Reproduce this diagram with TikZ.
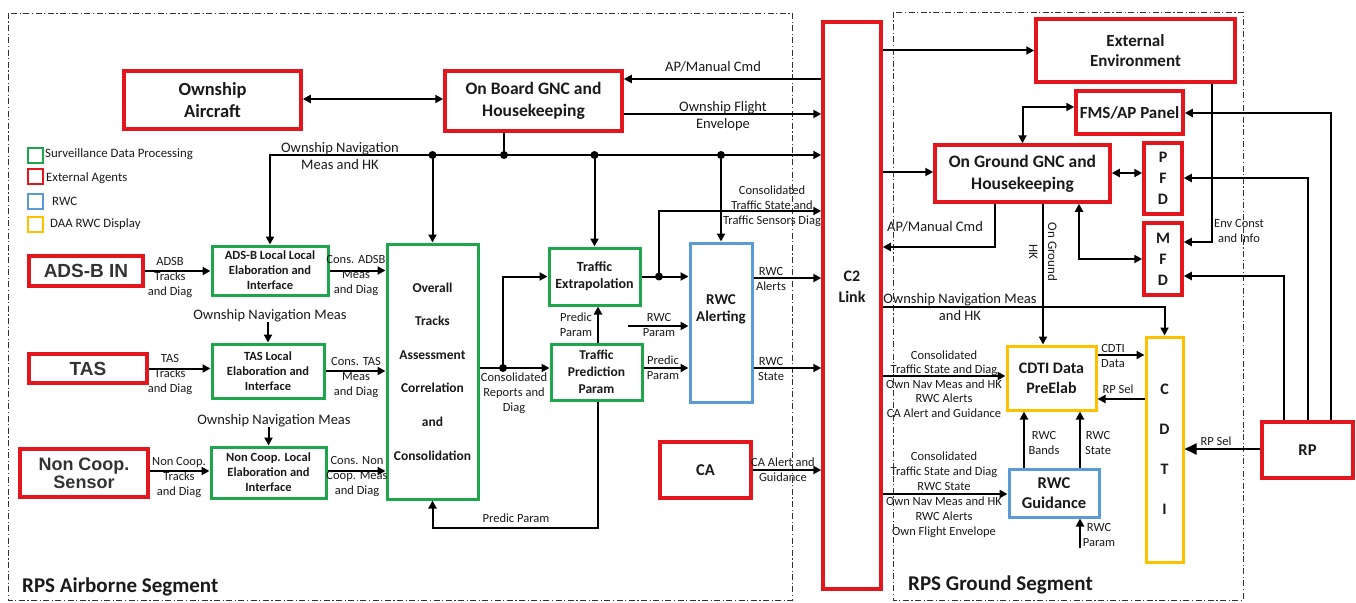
\documentclass[tikz,border=0pt]{standalone}
\usepackage{fontspec}
\setmainfont{Carlito}
\newfontfamily\arialfont{Liberation Sans}
\usetikzlibrary{arrows.meta}
\newcommand\fs[2]{\fontsize{#1}{#2}\selectfont}
\definecolor{agent}{HTML}{E3161D}
\definecolor{surv}{HTML}{1FA64C}
\definecolor{rwcblue}{HTML}{5B9BD5}
\definecolor{disp}{HTML}{FFC000}
\definecolor{ink}{HTML}{1A1A1A}
\definecolor{sens}{HTML}{333333}
\tikzset{
  box/.style={rectangle, inner sep=0pt, align=center, text=ink},
  agentbox/.style={box, draw=agent, line width=3.5pt},
  survbox/.style={box, draw=surv, line width=3pt},
  rwcbox/.style={box, draw=rwcblue, line width=3pt},
  dispbox/.style={box, draw=disp, line width=3pt},
  wire/.style={line width=2pt, draw=black},
  arr/.style={wire, -{Triangle[length=8pt,width=8pt]}},
  darr/.style={wire, {Triangle[length=8pt,width=8pt]}-{Triangle[length=8pt,width=8pt]}},
  bigarr/.style={wire, -{Triangle[length=12pt,width=11pt]}},
  lbl/.style={inner sep=0pt, align=center, text=ink, font=\fs{12.5}{15}},
  lblL/.style={inner sep=0pt, align=center, text=ink, font=\fs{14.5}{17}},
  legsq/.style={rectangle, minimum size=15pt, inner sep=0pt, line width=2pt},
  legtxt/.style={inner sep=0pt, anchor=west, text=ink, font=\fs{12.8}{14}},
  segframe/.style={draw=black!80, line width=0.9pt, dash pattern=on 6pt off 2.5pt on 1.2pt off 2.5pt},
  segtitle/.style={inner sep=0pt, anchor=west, text=ink, font=\fs{21}{24}\bfseries},
}
\begin{document}
\begin{tikzpicture}[x=1pt,y=-1pt]
\useasboundingbox (0,0) rectangle (1356,602);
\fill[white] (0,0) rectangle (1356,602);

% segment frames
\draw[segframe] (8,13) rectangle (792,600);
\draw[segframe] (893,12) rectangle (1243,600);
\node[segtitle] (airseg) at (22,587) {RPS Airborne Segment};
\node[segtitle] (gndseg) at (908,585) {RPS Ground Segment};

% legend
\node[legsq, draw=surv] (lg1) at (35,155) {};
\node[legtxt] (lt1) at (45,154) {Surveillance Data Processing};
\node[legsq, draw=agent] (lg2) at (35.5,176.5) {};
\node[legtxt] (lt2) at (46,178) {External Agents};
\node[legsq, draw=rwcblue] (lg3) at (35.5,201.5) {};
\node[legtxt] (lt3) at (52,201) {RWC};
\node[legsq, draw=disp] (lg4) at (35.5,224) {};
\node[legtxt] (lt4) at (50,224) {DAA RWC Display};

% external agents
\node[agentbox, minimum width=177, minimum height=58, font=\fs{18.5}{22}\bfseries] (own) at (212.5,100) {Ownship\\Aircraft};
\node[agentbox, minimum width=177, minimum height=60, font=\fs{17.5}{22}\bfseries] (obgnc) at (533.5,101) {On Board GNC and\\Housekeeping};
\node[agentbox, minimum width=58, minimum height=567] (c2) at (852,305.5) {};
\node[box, font=\fs{16}{21}\bfseries] (c2txt) at (852,286.5) {C2\\Link};
\node[agentbox, minimum width=114, minimum height=30, font=\arialfont\fs{19}{19}\bfseries, text=sens] (adsbin) at (86,271) {ADS-B IN};
\node[agentbox, minimum width=118, minimum height=29, font=\arialfont\fs{19}{19}\bfseries, text=sens] (tas) at (88,368.5) {TAS};
\node[agentbox, minimum width=128, minimum height=48, font=\arialfont\fs{18}{18}\bfseries, text=sens] (ncs) at (84,473) {Non Coop.\\Sensor};
\node[agentbox, minimum width=91, minimum height=56, font=\fs{16.5}{20}\bfseries] (ca) at (705.5,470) {CA};
\node[agentbox, minimum width=199, minimum height=63, font=\fs{17}{20}\bfseries] (ext) at (1135.5,50.5) {External\\Environment};
\node[agentbox, minimum width=107, minimum height=43, font=\fs{17}{20}\bfseries] (fms) at (1129.5,112.5) {FMS/AP Panel};
\node[agentbox, minimum width=175, minimum height=57, font=\fs{17.5}{22}\bfseries] (ogn) at (1022.5,173.5) {On Ground GNC and\\Housekeeping};
\node[agentbox, minimum width=38, minimum height=71, font=\fs{16}{21}\bfseries] (pfd) at (1163,178.5) {P\\F\\D};
\node[agentbox, minimum width=38, minimum height=72, font=\fs{16}{21}\bfseries] (mfd) at (1163,259) {M\\F\\D};
\node[agentbox, minimum width=91, minimum height=56, font=\fs{16.5}{20}\bfseries] (rp) at (1307.5,450) {RP};

% surveillance data processing
\node[survbox, minimum width=116, minimum height=49, font=\fs{12.5}{15}\bfseries] (adsbloc) at (270,270.5) {ADS-B Local Local\\Elaboration and\\Interface};
\node[survbox, minimum width=112, minimum height=54, font=\fs{12.5}{15}\bfseries] (tasloc) at (268,371) {TAS Local\\Elaboration and\\Interface};
\node[survbox, minimum width=115, minimum height=51, font=\fs{12.5}{15}\bfseries] (ncloc) at (268.5,472.5) {Non Coop. Local\\Elaboration and\\Interface};
\node[survbox, minimum width=91, minimum height=255, font=\fs{13.5}{33.6}\bfseries] (ota) at (432.5,371.5) {Overall\\Tracks\\Assessment\\Correlation\\and\\Consolidation};
\node[survbox, minimum width=91, minimum height=57, font=\fs{14}{17}\bfseries] (te) at (594.5,276.5) {Traffic\\Extrapolation};
\node[survbox, minimum width=91, minimum height=56, font=\fs{13.5}{17}\bfseries] (tpp) at (596.5,372) {Traffic\\Prediction\\Param};

% RWC
\node[rwcbox, minimum width=62, minimum height=159] (rwca) at (721,322.5) {};
\node[box, font=\fs{15}{17}\bfseries] (rwcatxt) at (721,309) {RWC\\Alerting};
\node[rwcbox, minimum width=90, minimum height=48, font=\fs{16.5}{20}\bfseries] (rwcg) at (1054,493) {RWC\\Guidance};

% display
\node[dispbox, minimum width=89, minimum height=64, font=\fs{16}{20}\bfseries] (cdtid) at (1051.5,378) {CDTI Data\\PreElab};
\node[dispbox, minimum width=37, minimum height=225, font=\fs{16}{40}\bfseries] (cdti) at (1164.5,449.5) {C\\D\\T\\I};

% ---------- airborne connectors ----------
\draw[darr] (own.east |- 0,99) -- (obgnc.west |- 0,99);
\draw[arr] (c2.west |- 0,79) -- (obgnc.east |- 0,79);
\node[lblL] (lapcmd) at (713,67) {AP/Manual Cmd};
\draw[arr] (obgnc.east |- 0,114) -- (c2.west |- 0,114);
\node[lblL] (lofe) at (723,116) {Ownship Flight\\Envelope};

% navigation bus
\coordinate (jgnc) at (504,155);
\draw[wire] (obgnc.south -| jgnc) -- (jgnc);
\draw[arr] (jgnc) -| (adsbloc.north);
\draw[arr] (jgnc) -- (c2.west |- jgnc);
\draw[arr] (ota.north |- jgnc) -- (ota.north);
\draw[arr] (te.north |- jgnc) -- (te.north);
\draw[arr] (rwca.north |- jgnc) -- (rwca.north);
\fill (jgnc) circle (4);
\fill (ota.north |- jgnc) circle (4);
\fill (te.north |- jgnc) circle (4);
\fill (rwca.north |- jgnc) circle (4);
\node[lblL] (lnav) at (340,156) {Ownship Navigation\\Meas and HK};

% sensors to local elaboration
\draw[arr] (adsbin.east) -- (adsbloc.west |- adsbin.east);
\node[lbl] (ladsb) at (170,278) {ADSB\\Tracks\\and Diag};
\draw[arr] (adsbloc.east) -- (ota.west |- adsbloc.east);
\node[lbl] (lcadsb) at (356,276) {Cons. ADSB\\Meas\\and Diag};

\draw[arr] (tas.east) -- (tasloc.west |- tas.east);
\node[lbl] (ltas) at (170,375) {TAS\\Tracks\\and Diag};
\draw[arr] (tasloc.east) -- (ota.west |- tasloc.east);
\node[lbl] (lctas) at (356,378) {Cons. TAS\\Meas\\and Diag};
\node[lblL] (lnav1) at (270,316) {Ownship Navigation Meas};
\draw[arr] (lnav1.south -| tasloc.north) -- (tasloc.north);

\draw[arr] (ncs.east |- 0,471) -- (ncloc.west |- 0,471);
\node[lbl] (lnc) at (179,478) {Non Coop.\\Tracks\\and Diag};
\draw[arr] (ncloc.east |- 0,471) -- (ota.west |- 0,471);
\node[lbl] (lcnc) at (357,477) {Cons. Non\\Coop. Meas\\and Diag};
\node[lblL] (lnav2) at (274,421) {Ownship Navigation Meas};
\draw[arr] (lnav2.south -| ncloc.north) -- (ncloc.north);

% overall tracks to traffic blocks
\coordinate (jrep) at (503,368);
\draw[arr] (ota.east |- jrep) -- (tpp.west |- jrep);
\draw[arr] (jrep) |- (te.west);
\fill (jrep) circle (4);
\node[lbl] (lrep) at (514,393) {Consolidated\\Reports and\\Diag};

\draw[arr] (tpp.north -| 598,0) -- (te.south -| 598,0);
\node[lbl] (lpp1) at (576,325) {Predic\\Param};
\draw[arr] (tpp.south -| 598,0) -- (598,528) -| (ota.south);
\node[lbl] (lpp2) at (516,518) {Predic Param};

% traffic extrapolation outputs
\coordinate (jte) at (659,276.5);
\draw[arr] (te.east) -- (rwca.west |- te.east);
\draw[arr] (jte) |- (c2.west |- 0,211);
\fill (jte) circle (4);
\node[lbl] (lcts) at (772,206) {Consolidated\\Traffic State and\\Traffic Sensors Diag};

% RWC alerting inputs and outputs
\coordinate (rwcpa) at (628,326);
\draw[arr] (rwcpa) -- (rwca.west |- rwcpa);
\node[lbl] (lrwcp) at (659,325) {RWC\\Param};
\draw[arr] (tpp.east |- 0,368) -- (rwca.west |- 0,368);
\node[lbl] (lpp3) at (663,368) {Predic\\Param};
\draw[arr] (rwca.east |- 0,278) -- (c2.west |- 0,278);
\node[lbl] (lrwca) at (771,279) {RWC\\Alerts};
\draw[arr] (rwca.east |- 0,368) -- (c2.west |- 0,368);
\node[lbl] (lrwcs) at (771,369) {RWC\\State};
\draw[arr] (ca.east) -- (c2.west |- ca.east);
\node[lbl] (lca) at (783,470) {CA Alert and\\Guidance};

% ---------- ground connectors ----------
\draw[arr] (c2.east |- ext.west) -- (ext.west);
\draw[arr] (c2.east |- 0,172) -- (ogn.west |- 0,172);
\draw[darr] (ogn.north) |- (fms.west |- 0,107);
\draw[darr] (ogn.east |- 0,173) -- (pfd.west |- 0,173);
\draw[arr] (ext.south -| 1212,0) |- (mfd.east |- 0,242);
\node[lbl] (lenv) at (1239,231) {Env Const\\and Info};
\draw[darr] (ogn.south -| 1079,0) |- (mfd.west |- 0,259);
\draw[arr] (ogn.south -| 995,0) |- (c2.east |- 0,247);
\node[lblL] (lapcmd2) at (935,227) {AP/Manual Cmd};
\draw[arr] (ogn.south -| 1043,0) -- (cdtid.north -| 1043,0);
\node[lbl, rotate=-90, font=\fs{13}{19}] (lhk) at (1043,252) {On Ground\\HK};

\draw[arr] (c2.east |- 0,307) -| (cdti.north);
\node[lblL] (lnav3) at (960,307) {Ownship Navigation Meas\\and HK};

\draw[arr] (c2.east |- 0,376) -- (cdtid.west |- 0,376);
\node[lbl, font=\fs{12.5}{14.5}] (lgrp1) at (944,384) {Consolidated\\Traffic State and Diag\\Own Nav Meas and HK\\RWC Alerts\\CA Alert and Guidance};
\draw[arr] (c2.east |- 0,494) -- (rwcg.west |- 0,494);
\node[lbl] (lgrp2) at (944,494.5) {Consolidated\\Traffic State and Diag\\RWC State\\Own Nav Meas and HK\\RWC Alerts\\Own Flight Envelope};

\draw[arr] (cdtid.east |- 0,355) -- (cdti.west |- 0,355);
\node[lbl] (lcdd) at (1113,356) {CDTI\\Data};
\draw[arr] (cdti.west |- 0,399) -- (cdtid.east |- 0,399);
\node[lbl] (lrps1) at (1118,389) {RP Sel};

\draw[arr] (rwcg.north -| 1024,0) -- (cdtid.south -| 1024,0);
\node[lbl] (lbands) at (1044,443) {RWC\\Bands};
\draw[arr] (rwcg.north -| 1080,0) -- (cdtid.south -| 1080,0);
\node[lbl] (lstate) at (1098,443) {RWC\\State};
\coordinate (rwcpg) at (1080,548);
\draw[arr] (rwcpg) -- (rwcg.south -| rwcpg);
\node[lbl] (lrwcp2) at (1099,535) {RWC\\Param};

\draw[bigarr] (rp.west |- 0,449) -- (cdti.east |- 0,449);
\node[lbl] (lrps2) at (1216,441) {RP Sel};
\draw[arr] (rp.north -| 1331,0) |- (fms.east |- 0,113);
\draw[arr] (rp.north -| 1308,0) |- (pfd.east |- 0,178);
\draw[arr] (rp.north -| 1284,0) |- (mfd.east |- 0,276);
\end{tikzpicture}
\end{document}
